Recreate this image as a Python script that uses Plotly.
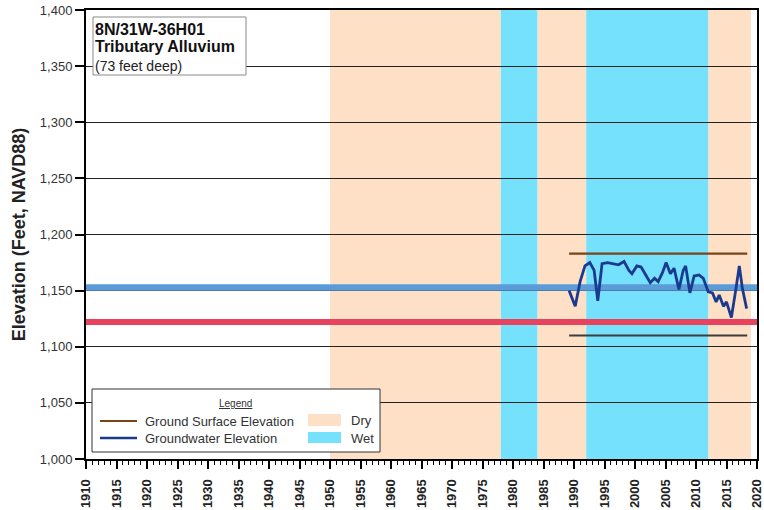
import plotly.graph_objects as go

# ---------------- data ----------------
gw_years = [1989.2, 1990.2, 1991.0, 1991.8, 1992.6, 1993.3, 1993.9, 1994.6, 1995.5, 1996.4,
            1997.3, 1998.2, 1999.0, 1999.5, 2000.3, 2001.0, 2001.8, 2002.5, 2003.2, 2003.8,
            2004.5, 2005.1, 2005.8, 2006.4, 2007.2, 2007.9, 2008.3, 2009.0, 2009.7, 2010.5,
            2011.2, 2012.0, 2012.7, 2013.3, 2013.8, 2014.5, 2015.0, 2015.8, 2016.5, 2017.1,
            2017.6, 2018.3]
gw_elev = [1150, 1136, 1158, 1172, 1175, 1168, 1141, 1174, 1175, 1174,
           1173, 1176, 1168, 1165, 1172, 1171, 1163, 1157, 1161, 1158,
           1166, 1175, 1165, 1170, 1151, 1168, 1172, 1148, 1163, 1164,
           1161, 1149, 1148, 1140, 1146, 1136, 1140, 1126, 1150, 1172,
           1152, 1134]

ground_surface_years = [1989.2, 2018.4]
ground_surface_elev = [1183, 1183]
well_bottom_years = [1989.2, 2018.4]
well_bottom_elev = [1110, 1110]

blue_ref_years = [1910, 2020.5]
blue_ref_elev = [1152.8, 1152.8]
red_ref_years = [1910, 2020.5]
red_ref_elev = [1122, 1122]

dry_starts = [1950, 1984, 2012]
dry_ends = [1978, 1992, 2019]
wet_starts = [1978, 1992]
wet_ends = [1984, 2012]

x_ticks = list(range(1910, 2021, 5))
y_ticks = list(range(1000, 1401, 50))

DRY = "#fde0c6"
WET = "#76e1fc"

# ---------------- geometry helpers (pixels -> paper) ----------------
W, H = 764, 510
L, R, T, B = 86, 7, 10, 51
PW, PH = W - L - R, H - T - B


def px(x):
    return (x - L) / PW


def py(y):
    return (H - B - y) / PH


fig = go.Figure()

shapes = []
for s, e in zip(dry_starts, dry_ends):
    shapes.append(dict(type="rect", xref="x", yref="y", x0=s, x1=e, y0=1000, y1=1400,
                       fillcolor=DRY, line_width=0, layer="below"))
for s, e in zip(wet_starts, wet_ends):
    shapes.append(dict(type="rect", xref="x", yref="y", x0=s, x1=e, y0=1000, y1=1400,
                       fillcolor=WET, line_width=0, layer="below"))

fig.add_trace(go.Scatter(x=blue_ref_years, y=blue_ref_elev, mode="lines",
                         line=dict(color="#5b9bd8", width=6.5), showlegend=False, cliponaxis=False))
fig.add_trace(go.Scatter(x=red_ref_years, y=red_ref_elev, mode="lines",
                         line=dict(color="#e8435e", width=6), showlegend=False, cliponaxis=False))
fig.add_trace(go.Scatter(x=ground_surface_years, y=ground_surface_elev, mode="lines",
                         line=dict(color="#7b4418", width=2.2), showlegend=False))
fig.add_trace(go.Scatter(x=well_bottom_years, y=well_bottom_elev, mode="lines",
                         line=dict(color="#3d3d3d", width=2.2), showlegend=False))
fig.add_trace(go.Scatter(x=gw_years, y=gw_elev, mode="lines",
                         line=dict(color="#1a3a8f", width=2.8), showlegend=False))

# title box
shapes.append(dict(type="rect", xref="paper", yref="paper", x0=px(93), x1=px(246),
                   y0=py(75), y1=py(17), fillcolor="white",
                   line=dict(color="#8a8a8a", width=1), layer="above"))
# legend box
shapes.append(dict(type="rect", xref="paper", yref="paper", x0=px(92), x1=px(380),
                   y0=py(452), y1=py(389), fillcolor="white",
                   line=dict(color="#333333", width=1), layer="above"))
shapes.append(dict(type="line", xref="paper", yref="paper", x0=px(100), x1=px(137),
                   y0=py(421), y1=py(421), line=dict(color="#7b4418", width=2), layer="above"))
shapes.append(dict(type="line", xref="paper", yref="paper", x0=px(100), x1=px(137),
                   y0=py(438), y1=py(438), line=dict(color="#1a3a8f", width=2.4), layer="above"))
shapes.append(dict(type="rect", xref="paper", yref="paper", x0=px(308), x1=px(341),
                   y0=py(426), y1=py(414), fillcolor=DRY, line_width=0, layer="above"))
shapes.append(dict(type="rect", xref="paper", yref="paper", x0=px(308), x1=px(341),
                   y0=py(443), y1=py(432), fillcolor=WET, line_width=0, layer="above"))

FONT = "Liberation Sans, Arial, sans-serif"
ann = []


def text(x, y, s, size, bold=False, color="#111", xanchor="left"):
    ann.append(dict(xref="paper", yref="paper", x=px(x), y=py(y), text=s, showarrow=False,
                    xanchor=xanchor, yanchor="middle", xshift=-2,
                    font=dict(family=FONT, size=size, color=color,
                              weight="bold" if bold else "normal")))


text(95, 29, "8N/31W-36H01", 16, True)
text(95, 47, "Tributary Alluvium", 16, True)
text(95, 66, "(73 feet deep)", 14, False, "#222")
text(237, 403, "<u>Legend</u>", 10, False, "#333", "center")
text(145, 421, "Ground Surface Elevation", 13, False, "#333")
text(145, 438, "Groundwater Elevation", 13, False, "#333")
text(351, 420, "Dry", 13, False, "#333")
text(351, 438, "Wet", 13, False, "#333")

fig.update_layout(
    width=W, height=H,
    margin=dict(l=L, r=R, t=T, b=B, autoexpand=False),
    plot_bgcolor="white", paper_bgcolor="white",
    shapes=shapes, annotations=ann,
    showlegend=False,
    font=dict(family=FONT),
)
fig.update_xaxes(
    range=[1910, 2020], tickvals=x_ticks, tickangle=-90, automargin=False,
    tickfont=dict(family=FONT, size=13, color="#222", weight="bold"),
    ticklabelstandoff=5, ticklabeloverflow="allow",
    showgrid=False, zeroline=False,
    showline=True, linecolor="black", linewidth=2, mirror=True,
    ticks="outside", ticklen=8, tickwidth=1.5, tickcolor="black",
    minor=dict(dtick=1, ticks="outside", ticklen=4, tickwidth=1, tickcolor="black", showgrid=False),
)
fig.update_yaxes(
    range=[1000, 1400], tickvals=y_ticks, tickformat=",d", automargin=False,
    tickfont=dict(family=FONT, size=13, color="#333"),
    ticklabeloverflow="allow",
    showgrid=True, gridcolor="#222", gridwidth=1, zeroline=False,
    showline=True, linecolor="black", linewidth=2, mirror=True,
    ticks="outside", ticklen=9, tickwidth=1.5, tickcolor="black",
    title=dict(text="Elevation (Feet, NAVD88)", font=dict(family=FONT, size=18, color="#222", weight="bold"),
               standoff=10),
)

fig.write_html("out.html", config={"displayModeBar": False},
               post_script="document.body.style.margin='0';document.body.style.padding='0';")
